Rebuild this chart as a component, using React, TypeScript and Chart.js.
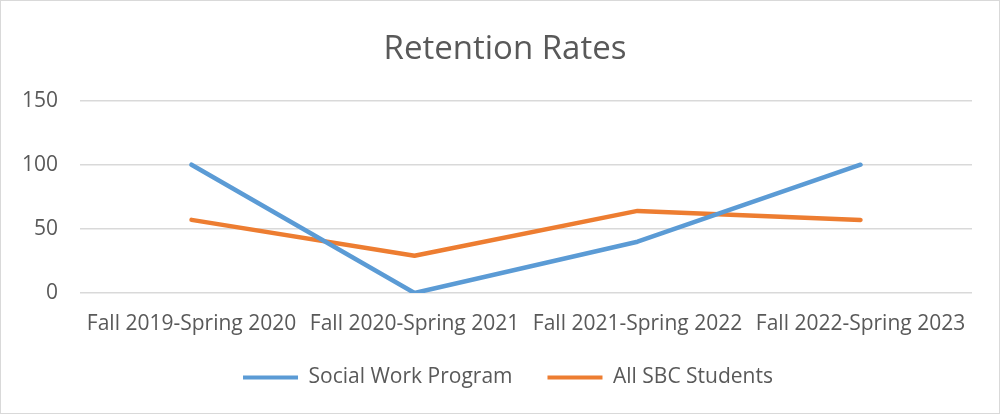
import React, { useEffect, useRef } from "react";
import { Chart, registerables } from "chart.js";

Chart.register(...registerables);

const categories = [
  "Fall 2019-Spring 2020",
  "Fall 2020-Spring 2021",
  "Fall 2021-Spring 2022",
  "Fall 2022-Spring 2023",
];
const socialWork = [100, 0, 40, 100];
const allSbc = [57, 29, 64, 57];
const yTicks = [0, 50, 100, 150];

const FONT = "'Open Sans', sans-serif";
const TEXT = "#595959";

const borderPlugin = {
  id: "outerBorder",
  afterDraw(chart: any) {
    const { ctx, width, height } = chart;
    ctx.save();
    ctx.strokeStyle = "#d9d9d9";
    ctx.lineWidth = 1;
    ctx.strokeRect(0.5, 0.5, width - 1, height - 1);
    ctx.restore();
  },
};

// Center title and legend on the whole chart box (as in the original), and
// pull the legend row up to its place below the axis labels.
const boxShiftPlugin = {
  id: "boxShift",
  afterLayout(chart: any) {
    const lg = chart.legend;
    if (lg) {
      lg.left += 22;
      lg.right += 22;
      lg.top -= 24;
      lg.bottom -= 24;
    }
    const tb = chart.titleBlock;
    if (tb) {
      tb.left += 19;
      tb.right += 19;
    }
  },
};

export default function App() {
  const ref = useRef<HTMLCanvasElement>(null);
  useEffect(() => {
    document.body.style.margin = "0";
    let chart: Chart | null = null;
    let cancelled = false;
    const make = () => {
      if (cancelled || !ref.current) return;
      chart = new Chart(ref.current, {
        type: "line",
        data: {
          labels: categories,
          datasets: [
            {
              label: "Social Work Program",
              data: socialWork,
              borderColor: "#5b9bd5",
              backgroundColor: "#5b9bd5",
              borderWidth: 4.5,
              pointRadius: 0,
              tension: 0,
              borderCapStyle: "round",
              borderJoinStyle: "round",
            },
            {
              label: "All SBC Students",
              data: allSbc,
              borderColor: "#ed7d31",
              backgroundColor: "#ed7d31",
              borderWidth: 4.5,
              pointRadius: 0,
              tension: 0,
              borderCapStyle: "round",
              borderJoinStyle: "round",
            },
          ],
        },
        plugins: [borderPlugin, boxShiftPlugin],
        options: {
          animation: false,
          responsive: false,
          layout: { padding: { left: 0, right: 28, top: 16, bottom: 0 } },
          plugins: {
            title: {
              display: true,
              text: "Retention Rates",
              color: TEXT,
              font: { family: FONT, size: 33, weight: "normal" },
              padding: { top: 14, bottom: 31 },
            },
            legend: {
              position: "bottom",
              maxHeight: 58,
              labels: {
                color: TEXT,
                font: { family: FONT, size: 21 },
                boxWidth: 55,
                boxHeight: 4,
                padding: 35,
                generateLabels(c: any) {
                  return c.data.datasets.map((ds: any, i: number) => ({
                    text: ds.label,
                    fillStyle: ds.borderColor,
                    strokeStyle: ds.borderColor,
                    lineWidth: 0,
                    datasetIndex: i,
                    fontColor: TEXT,
                  }));
                },
              },
            },
            tooltip: { enabled: false },
          },
          scales: {
            x: {
              offset: true,
              grid: { display: false, drawTicks: false },
              border: { display: false },
              ticks: {
                color: TEXT,
                font: { family: FONT, size: 21, lineHeight: 1 },
                maxRotation: 0,
                padding: 21,
              },
            },
            y: {
              min: 0,
              max: 150,
              afterBuildTicks(axis: any) {
                axis.ticks = yTicks.map((v) => ({ value: v }));
              },
              grid: { color: "#d9d9d9", lineWidth: 1.5, drawTicks: false },
              border: { display: false },
              ticks: {
                color: TEXT,
                font: { family: FONT, size: 21 },
                padding: 22,
              },
            },
          },
        },
      });
    };
    const fonts: any = (document as any).fonts;
    if (fonts && fonts.load) {
      Promise.all([
        fonts.load("21px 'Open Sans'"),
        fonts.load("33px 'Open Sans'"),
      ])
        .catch(() => null)
        .then(make);
    } else {
      make();
    }
    return () => {
      cancelled = true;
      if (chart) chart.destroy();
    };
  }, []);
  return <canvas ref={ref} width={1000} height={414} style={{ display: "block" }} />;
}
